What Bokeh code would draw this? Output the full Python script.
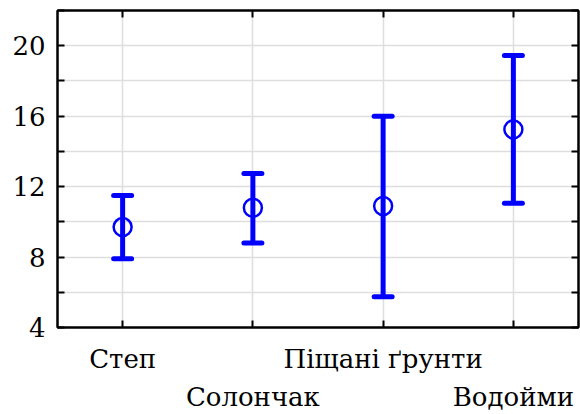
from bokeh.plotting import figure
from bokeh.models import (ColumnDataSource, Whisker, TeeHead, FixedTicker,
                          LinearAxis, Range1d)
from bokeh.embed import file_html
from bokeh.resources import INLINE

# Habitat groups and their mean with lower/upper bounds
categories = ["Степ", "Солончак", "Піщані ґрунти", "Водойми"]
means = [9.7, 10.8, 10.9, 15.25]
lower = [7.9, 8.8, 5.75, 11.05]
upper = [11.5, 12.75, 16.0, 19.45]

# y-axis ticks: labelled ones and the unlabelled ones between them
y_labelled = [4, 8, 12, 16, 20]
y_between = [6, 10, 14, 18, 22]

BLUE = "#0000ff"
FONT = "DejaVu Serif"
FSIZE = "26px"

xs = list(range(1, len(categories) + 1))
src = ColumnDataSource(dict(x=xs, m=means, lo=lower, hi=upper))

p = figure(width=580, height=414, output_backend="svg", toolbar_location=None,
           x_range=Range1d(0.5, 4.5), y_range=Range1d(4, 22),
           x_axis_location=None, y_axis_location=None,
           min_border_left=57, min_border_right=2, min_border_top=10,
           min_border_bottom=87)
p.background_fill_color = "white"
p.border_fill_color = "white"
p.outline_line_color = "black"
p.outline_line_width = 2

def frame_axis(major, minor, labels=None):
    axis = LinearAxis(ticker=FixedTicker(ticks=major, minor_ticks=minor))
    axis.axis_line_color = "black"
    axis.axis_line_width = 2
    for kind in ("major", "minor"):
        setattr(axis, f"{kind}_tick_in", 7)
        setattr(axis, f"{kind}_tick_out", 0)
        setattr(axis, f"{kind}_tick_line_width", 2)
        setattr(axis, f"{kind}_tick_line_color", "black")
    axis.major_label_text_font = FONT
    axis.major_label_text_font_size = FSIZE
    axis.major_label_text_color = "black"
    if labels is not None:
        axis.major_label_overrides = labels
    return axis

# left axis: labels every 4, plain ticks in between
left = frame_axis(y_labelled, y_between)
left.major_label_standoff = 12
p.add_layout(left, "left")

# right and top axes carry inward ticks only
right = frame_axis([], y_labelled + y_between)
right.major_label_standoff = 0
p.add_layout(right, "right")
top = frame_axis([], xs)
top.major_label_standoff = 0
p.add_layout(top, "above")

# bottom: category names staggered over two rows
odd = xs[0::2]
even = xs[1::2]
row1 = frame_axis(odd, even, {x: categories[x - 1] for x in odd})
row1.major_label_standoff = 16
p.add_layout(row1, "below")

row2 = frame_axis(even, [], {x: categories[x - 1] for x in even})
row2.axis_line_color = None
row2.major_tick_line_color = None
row2.major_label_standoff = 5
p.add_layout(row2, "below")

# grid
p.xgrid.ticker = FixedTicker(ticks=xs)
p.ygrid.ticker = FixedTicker(ticks=sorted(y_labelled + y_between))
p.xgrid.grid_line_color = "#dedede"
p.ygrid.grid_line_color = "#dedede"
p.xgrid.grid_line_width = 1.5
p.ygrid.grid_line_width = 1.5

# error bars
head = dict(size=18, line_color=BLUE, line_width=5, line_cap="round")
p.add_layout(Whisker(source=src, base="x", lower="lo", upper="hi",
                     line_color=BLUE, line_width=5,
                     lower_head=TeeHead(**head), upper_head=TeeHead(**head)))

# means
p.scatter("x", "m", source=src, marker="circle", size=18,
          fill_color=None, line_color=BLUE, line_width=2.5)

open("out.html", "w").write(file_html(p, INLINE))
